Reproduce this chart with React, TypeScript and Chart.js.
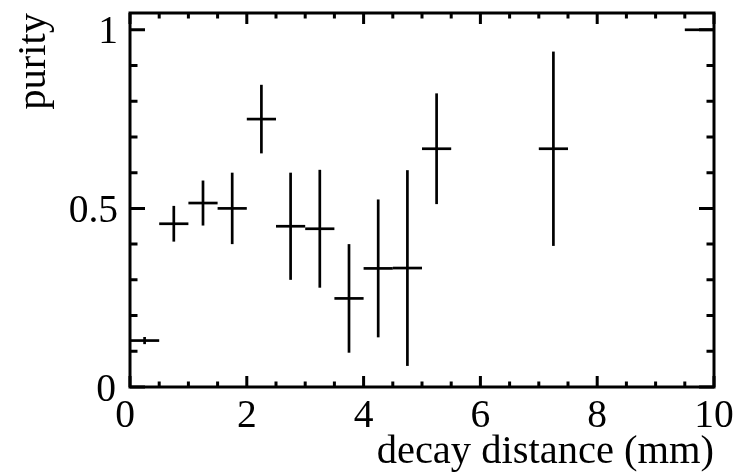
import React, { useEffect, useRef } from "react";
import { Chart, registerables } from "chart.js";

Chart.register(...registerables);

const xCenters = [0.25, 0.75, 1.25, 1.75, 2.25, 2.75, 3.25, 3.75, 4.25, 4.75, 5.25, 7.25, 9.75];
const xHalfWidths = [0.25, 0.25, 0.25, 0.25, 0.25, 0.25, 0.25, 0.25, 0.25, 0.25, 0.25, 0.25, 0.25];
const purity = [0.13, 0.457, 0.515, 0.5, 0.75, 0.45, 0.443, 0.248, 0.332, 0.333, 0.667, 0.667, 1.0];
const purityErrors = [0.01, 0.05, 0.063, 0.1, 0.096, 0.15, 0.165, 0.152, 0.193, 0.274, 0.155, 0.272, 0];

const xMajorTicks = [0, 2, 4, 6, 8, 10];
const xTickLabels = ["0", "2", "4", "6", "8", "10"];
const xMinorTicks = [0.5, 1, 1.5, 2.5, 3, 3.5, 4.5, 5, 5.5, 6.5, 7, 7.5, 8.5, 9, 9.5];
const yMajorTicks = [0, 0.5, 1];
const yTickLabels = ["0", "0.5", "1"];
const yMinorTicks = [0.1, 0.2, 0.3, 0.4, 0.6, 0.7, 0.8, 0.9];

const xTitle = "decay distance (mm)";
const yTitle = "purity";

const FONT = '"Liberation Serif", "Times New Roman", serif';

const framePlugin = {
  id: "rootFrame",
  afterDatasetsDraw(chart: any) {
    const ctx = chart.ctx;
    const xs = chart.scales.x;
    const ys = chart.scales.y;
    const a = chart.chartArea;
    ctx.save();
    ctx.strokeStyle = "#000";
    ctx.lineCap = "butt";

    // error crosses
    ctx.lineWidth = 2.7;
    for (let i = 0; i < xCenters.length; i++) {
      const xc = xs.getPixelForValue(xCenters[i]);
      const x0 = xs.getPixelForValue(xCenters[i] - xHalfWidths[i]);
      const x1 = xs.getPixelForValue(xCenters[i] + xHalfWidths[i]);
      const yc = ys.getPixelForValue(purity[i]);
      ctx.beginPath();
      ctx.moveTo(x0, yc);
      ctx.lineTo(x1, yc);
      ctx.stroke();
      if (purityErrors[i] > 0) {
        const y0 = ys.getPixelForValue(purity[i] - purityErrors[i]);
        const y1 = ys.getPixelForValue(purity[i] + purityErrors[i]);
        ctx.beginPath();
        ctx.moveTo(xc, y0);
        ctx.lineTo(xc, y1);
        ctx.stroke();
      }
    }

    // frame
    ctx.lineWidth = 3;
    ctx.strokeRect(a.left, a.top, a.right - a.left, a.bottom - a.top);

    // x ticks (bottom and top)
    const xMajLen = 11;
    const xMinLen = 5.5;
    const drawX = (v: number, len: number) => {
      const p = xs.getPixelForValue(v);
      ctx.beginPath();
      ctx.moveTo(p, a.bottom);
      ctx.lineTo(p, a.bottom - len);
      ctx.moveTo(p, a.top);
      ctx.lineTo(p, a.top + len);
      ctx.stroke();
    };
    xMajorTicks.forEach((v) => drawX(v, xMajLen));
    xMinorTicks.forEach((v) => drawX(v, xMinLen));

    // y ticks (left and right)
    const yMajLen = 15;
    const yMinLen = 7.5;
    const drawY = (v: number, len: number) => {
      const p = ys.getPixelForValue(v);
      ctx.beginPath();
      ctx.moveTo(a.left, p);
      ctx.lineTo(a.left + len, p);
      ctx.moveTo(a.right, p);
      ctx.lineTo(a.right - len, p);
      ctx.stroke();
    };
    yMajorTicks.forEach((v) => drawY(v, yMajLen));
    yMinorTicks.forEach((v) => drawY(v, yMinLen));

    // tick labels
    ctx.fillStyle = "#000";
    ctx.font = `39.5px ${FONT}`;
    ctx.textBaseline = "alphabetic";
    ctx.textAlign = "center";
    xMajorTicks.forEach((v, i) => {
      const p = xs.getPixelForValue(v) + (v === 0 ? -5 : 0);
      ctx.fillText(xTickLabels[i], p, a.bottom + 40);
    });
    ctx.textAlign = "right";
    yMajorTicks.forEach((v, i) => {
      const p = ys.getPixelForValue(v);
      const dx = v === 0 ? -2 : 0;
      ctx.fillText(yTickLabels[i], a.left - 12 + dx, p + 13.5);
    });

    // axis titles
    ctx.font = `40.5px ${FONT}`;
    ctx.textAlign = "right";
    ctx.fillText(xTitle, a.right, a.bottom + 76);
    ctx.save();
    ctx.translate(45, a.top);
    ctx.rotate(-Math.PI / 2);
    ctx.textAlign = "right";
    ctx.fillText(yTitle, 0, 0);
    ctx.restore();

    ctx.restore();
  },
};

export default function App() {
  const ref = useRef<HTMLCanvasElement | null>(null);
  useEffect(() => {
    if (!ref.current) return;
    const chart = new Chart(ref.current, {
      type: "scatter",
      data: {
        datasets: [
          {
            label: yTitle,
            data: xCenters.map((x, i) => ({ x, y: purity[i] })),
            pointRadius: 0,
            showLine: false,
          },
        ],
      },
      options: {
        responsive: false,
        animation: false,
        layout: { padding: { left: 130, right: 23, top: 13, bottom: 88 } },
        plugins: { legend: { display: false }, tooltip: { enabled: false } },
        scales: {
          x: { type: "linear", min: 0, max: 10, display: false },
          y: { type: "linear", min: 0, max: 1.047, display: false },
        },
      },
      plugins: [framePlugin],
    });
    return () => chart.destroy();
  }, []);
  return (
    <div style={{ position: "absolute", left: 0, top: 0, width: 737, height: 475, background: "#fff" }}>
      <canvas ref={ref} width={737} height={475} />
    </div>
  );
}
